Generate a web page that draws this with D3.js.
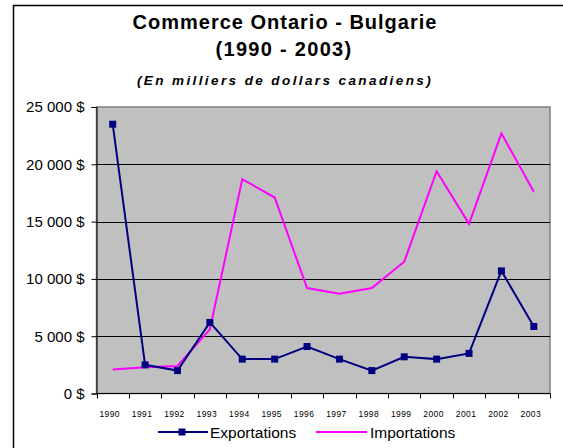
<!DOCTYPE html>
<html lang="fr">
<head>
<meta charset="UTF-8">
<title>Commerce Ontario - Bulgarie</title>
<script src="https://d3js.org/d3.v7.min.js"></script>
<style>
  body { margin: 0; background: #fff; }
  svg { display: block; font-family: Arial, "Liberation Sans", sans-serif; }
</style>
</head>
<body>
<svg id="chart" width="563" height="448"></svg>
<script>
// data (milliers de dollars canadiens)
const years = ["1990", "1991", "1992", "1993", "1994", "1995", "1996",
               "1997", "1998", "1999", "2000", "2001", "2002", "2003"];
const exportations = [23500, 2500, 2000, 6200, 3000, 3000, 4100,
                      3000, 2000, 3200, 3000, 3500, 10700, 5850];
const importations = [2100, 2300, 2400, 5600, 18700, 17100, 9200,
                      8700, 9200, 11500, 19400, 14800, 22700, 17600];
const yTicks = [0, 5000, 10000, 15000, 20000, 25000];

const svg = d3.select("#chart");
const plot = { left: 96.5, right: 550, top: 107, bottom: 393.5 };

// outer frame (cut at right/bottom like the reference)
svg.append("rect")
  .attr("x", 13.5).attr("y", 5.5)
  .attr("width", 600).attr("height", 500)
  .attr("fill", "none").attr("stroke", "#000").attr("stroke-width", 1.5);

// titles
svg.append("text").attr("x", 285).attr("y", 29)
  .attr("text-anchor", "middle").attr("font-size", 20).attr("font-weight", "bold")
  .attr("letter-spacing", 1)
  .text("Commerce Ontario - Bulgarie");
svg.append("text").attr("x", 284).attr("y", 56)
  .attr("text-anchor", "middle").attr("font-size", 20).attr("font-weight", "bold")
  .attr("letter-spacing", 1.3)
  .text("(1990 - 2003)");
svg.append("text").attr("x", 285).attr("y", 85)
  .attr("text-anchor", "middle").attr("font-size", 13.5).attr("font-weight", "bold")
  .attr("font-style", "italic").attr("letter-spacing", 2.4)
  .text("(En milliers de dollars canadiens)");

const x = d3.scaleBand().domain(years).range([plot.left, plot.right]);
const y = d3.scaleLinear().domain([0, 25000]).range([plot.bottom, plot.top]);

// plot background
svg.append("rect")
  .attr("x", plot.left).attr("y", plot.top)
  .attr("width", plot.right - plot.left).attr("height", plot.bottom - plot.top)
  .attr("fill", "#c0c0c0").attr("stroke", "#808080").attr("stroke-width", 1.5);

// gridlines
svg.append("g").selectAll("line")
  .data(yTicks.filter(d => d > 0 && d < 25000))
  .join("line")
  .attr("x1", plot.left).attr("x2", plot.right)
  .attr("y1", d => Math.round(y(d)) + 0.5).attr("y2", d => Math.round(y(d)) + 0.5)
  .attr("stroke", "#000").attr("stroke-width", 1);

// y axis
const fmt = d => (d >= 1000 ? d3.format(",")(d).replace(",", " ") : d) + " $";
const yAxis = svg.append("g")
  .attr("transform", `translate(${plot.left},0)`)
  .call(d3.axisLeft(y).tickValues(yTicks).tickSize(5).tickPadding(7).tickFormat(fmt));
yAxis.selectAll("text").attr("font-size", 15).attr("fill", "#000").attr("font-family", "Arial");
yAxis.selectAll("line, path").attr("stroke", "#000");

// x axis: ticks at category boundaries, labels centred
const xAxis = svg.append("g")
  .attr("transform", `translate(0,${plot.bottom})`);
xAxis.append("line")
  .attr("x1", plot.left).attr("x2", plot.right).attr("stroke", "#000");
xAxis.selectAll("line.tick")
  .data(years.concat(["end"]))
  .join("line")
  .attr("class", "tick")
  .attr("x1", (d, i) => Math.round(plot.left + i * x.bandwidth()) + 0.5)
  .attr("x2", (d, i) => Math.round(plot.left + i * x.bandwidth()) + 0.5)
  .attr("y1", 0).attr("y2", 5).attr("stroke", "#000");
xAxis.selectAll("text")
  .data(years)
  .join("text")
  .attr("x", d => x(d) + x.bandwidth() / 2 - 3)
  .attr("y", 23.5)
  .attr("text-anchor", "middle").attr("font-size", 8.5).attr("letter-spacing", 0.4)
  .text(d => d);

// series
const cx = d => x(d) + x.bandwidth() / 2;
const line = d3.line().x((d, i) => cx(years[i])).y(d => y(d));

svg.append("path").datum(importations)
  .attr("d", line).attr("fill", "none")
  .attr("stroke", "#ff00ff").attr("stroke-width", 2);

svg.append("path").datum(exportations)
  .attr("d", line).attr("fill", "none")
  .attr("stroke", "#000080").attr("stroke-width", 2);

svg.append("g").selectAll("rect")
  .data(exportations)
  .join("rect")
  .attr("x", (d, i) => cx(years[i]) - 3.5)
  .attr("y", d => y(d) - 3.5)
  .attr("width", 7).attr("height", 7)
  .attr("fill", "#000080");

// legend
const legend = svg.append("g").attr("transform", "translate(0,432)");
legend.append("line").attr("x1", 158).attr("x2", 208)
  .attr("stroke", "#000080").attr("stroke-width", 2);
legend.append("rect").attr("x", 178.5).attr("y", -3.5).attr("width", 7).attr("height", 7)
  .attr("fill", "#000080");
legend.append("text").attr("x", 210).attr("y", 5.5).attr("font-size", 15.5)
  .text("Exportations");
legend.append("line").attr("x1", 316).attr("x2", 367)
  .attr("stroke", "#ff00ff").attr("stroke-width", 2);
legend.append("text").attr("x", 370).attr("y", 5.5).attr("font-size", 15.5)
  .text("Importations");
</script>
</body>
</html>
